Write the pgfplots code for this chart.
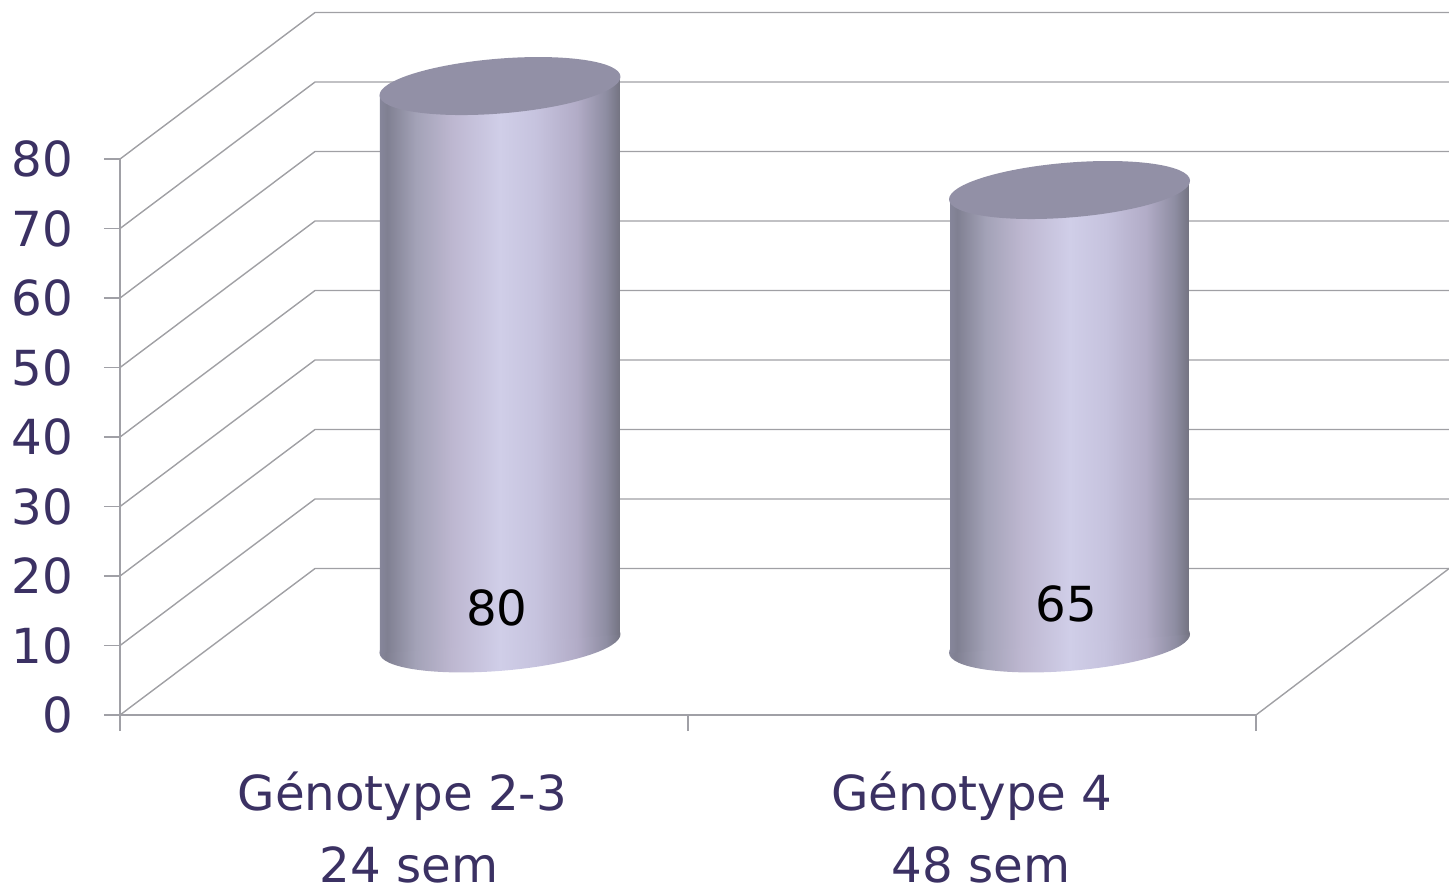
\documentclass[border=0pt]{standalone}
\usepackage{fontspec}
\setmainfont{DejaVu Sans}
\usepackage{pgfplots}
\pgfplotsset{compat=1.18}
\definecolor{txt}{HTML}{3B3163}
\definecolor{gridc}{HTML}{A0A0A4}
\definecolor{axisc}{HTML}{A0A0A6}
\definecolor{capc}{HTML}{9290A6}
\definecolor{c0}{HTML}{86869A}
\definecolor{c1}{HTML}{808092}
\definecolor{c2}{HTML}{A3A2B7}
\definecolor{c3}{HTML}{BDB7D0}
\definecolor{c4}{HTML}{D0CEE8}
\definecolor{c5}{HTML}{C6C3DE}
\definecolor{c6}{HTML}{B2ACC7}
\definecolor{c7}{HTML}{8E8DA2}
\definecolor{c8}{HTML}{737381}
\pgfdeclarehorizontalshading{cyl}{100bp}{%
  color(0bp)=(c0);color(25bp)=(c0);color(26.5bp)=(c1);color(32.5bp)=(c2);color(40bp)=(c3);
  color(50bp)=(c4);color(57.5bp)=(c5);color(66bp)=(c6);color(72bp)=(c7);color(75bp)=(c8);color(100bp)=(c8)}
\pgfdeclareplotmark{cyltop}{%
  \pgfpathellipse{\pgfpointorigin}{\pgfpoint{60.25pt}{4.75pt}}{\pgfpoint{-0.5pt}{13.7pt}}%
  \pgfsetfillcolor{capc}\pgfusepathqfill}
\pgfdeclareplotmark{cylbot}{%
  \pgfpathellipse{\pgfpointorigin}{\pgfpoint{60.25pt}{4.75pt}}{\pgfpoint{-0.5pt}{13.7pt}}%
  \pgfshadepath{cyl}{0}\pgfusepath{discard}}
\begin{document}
\begin{tikzpicture}
\useasboundingbox (-60pt,-87.5pt) rectangle (664.5pt,357.5pt);
\begin{axis}[
  at={(0,0)},anchor=origin,
  scale only axis,width=568pt,height=278pt,
  xmin=0,xmax=2,ymin=0,ymax=80,clip=false,clip mode=individual,
  axis x line*=bottom,axis y line*=left,
  axis line style={axisc,line width=0.7pt,-},
  xtick={0,1,2},xticklabels={},
  ytick={0,10,...,80},
  extra x ticks={0.497,1.5},
  extra x tick labels={{Génotype 2-3\\\hspace*{7pt}24 sem},{Génotype 4\\\hspace*{9pt}48 sem}},
  extra x tick style={major tick length=0pt,
    tick label style={align=center,yshift=-25pt}},
  tick align=outside,major tick length=8pt,
  tick style={axisc,line width=0.7pt},
  tick label style={text=txt,font=\fontsize{24.15}{36}\selectfont},
  yticklabel style={xshift=-12pt},
  /pgf/number format/assume math mode=true,
  after end axis/.code={
    \node[font=\fontsize{24.15}{28}\selectfont,text=black] at (axis cs:0.6637,15.4) {80};
    \node[font=\fontsize{24.15}{28}\selectfont,text=black] at (axis cs:1.6655,15.97) {65};
  },
]
% back wall and side wall grid lines
\pgfplotsset{every axis plot/.append style={line width=0.7pt}}
\addplot[gridc,mark=none] coordinates {(0,0)(0.3433,21.08)(2.34,21.08)};
\addplot[gridc,mark=none] coordinates {(0,10)(0.3433,31.08)(2.34,31.08)};
\addplot[gridc,mark=none] coordinates {(0,20)(0.3433,41.08)(2.34,41.08)};
\addplot[gridc,mark=none] coordinates {(0,30)(0.3433,51.08)(2.34,51.08)};
\addplot[gridc,mark=none] coordinates {(0,40)(0.3433,61.08)(2.34,61.08)};
\addplot[gridc,mark=none] coordinates {(0,50)(0.3433,71.08)(2.34,71.08)};
\addplot[gridc,mark=none] coordinates {(0,60)(0.3433,81.08)(2.34,81.08)};
\addplot[gridc,mark=none] coordinates {(0,70)(0.3433,91.08)(2.34,91.08)};
\addplot[gridc,mark=none] coordinates {(0,80)(0.3433,101.08)(2.34,101.08)};
\addplot[gridc,mark=none] coordinates {(2,0)(2.34,21.08)};
% cylinder bases
\addplot[only marks,mark=cylbot] coordinates {(0.669,10.3)(1.6717,10.3)};
% cylinder bodies
\addplot[draw=none,shade,shading=cyl,mark=none] coordinates
  {(0.4577,8.9)(0.4577,89.14)(0.8803,91.87)(0.8803,11.6)} --cycle;
\addplot[draw=none,shade,shading=cyl,mark=none] coordinates
  {(1.4613,8.9)(1.4613,74.17)(1.8820,76.91)(1.8820,11.6)} --cycle;
% cylinder caps
\addplot[only marks,mark=cyltop] coordinates {(0.669,90.50)(1.6717,75.54)};
\end{axis}
\end{tikzpicture}
\end{document}
